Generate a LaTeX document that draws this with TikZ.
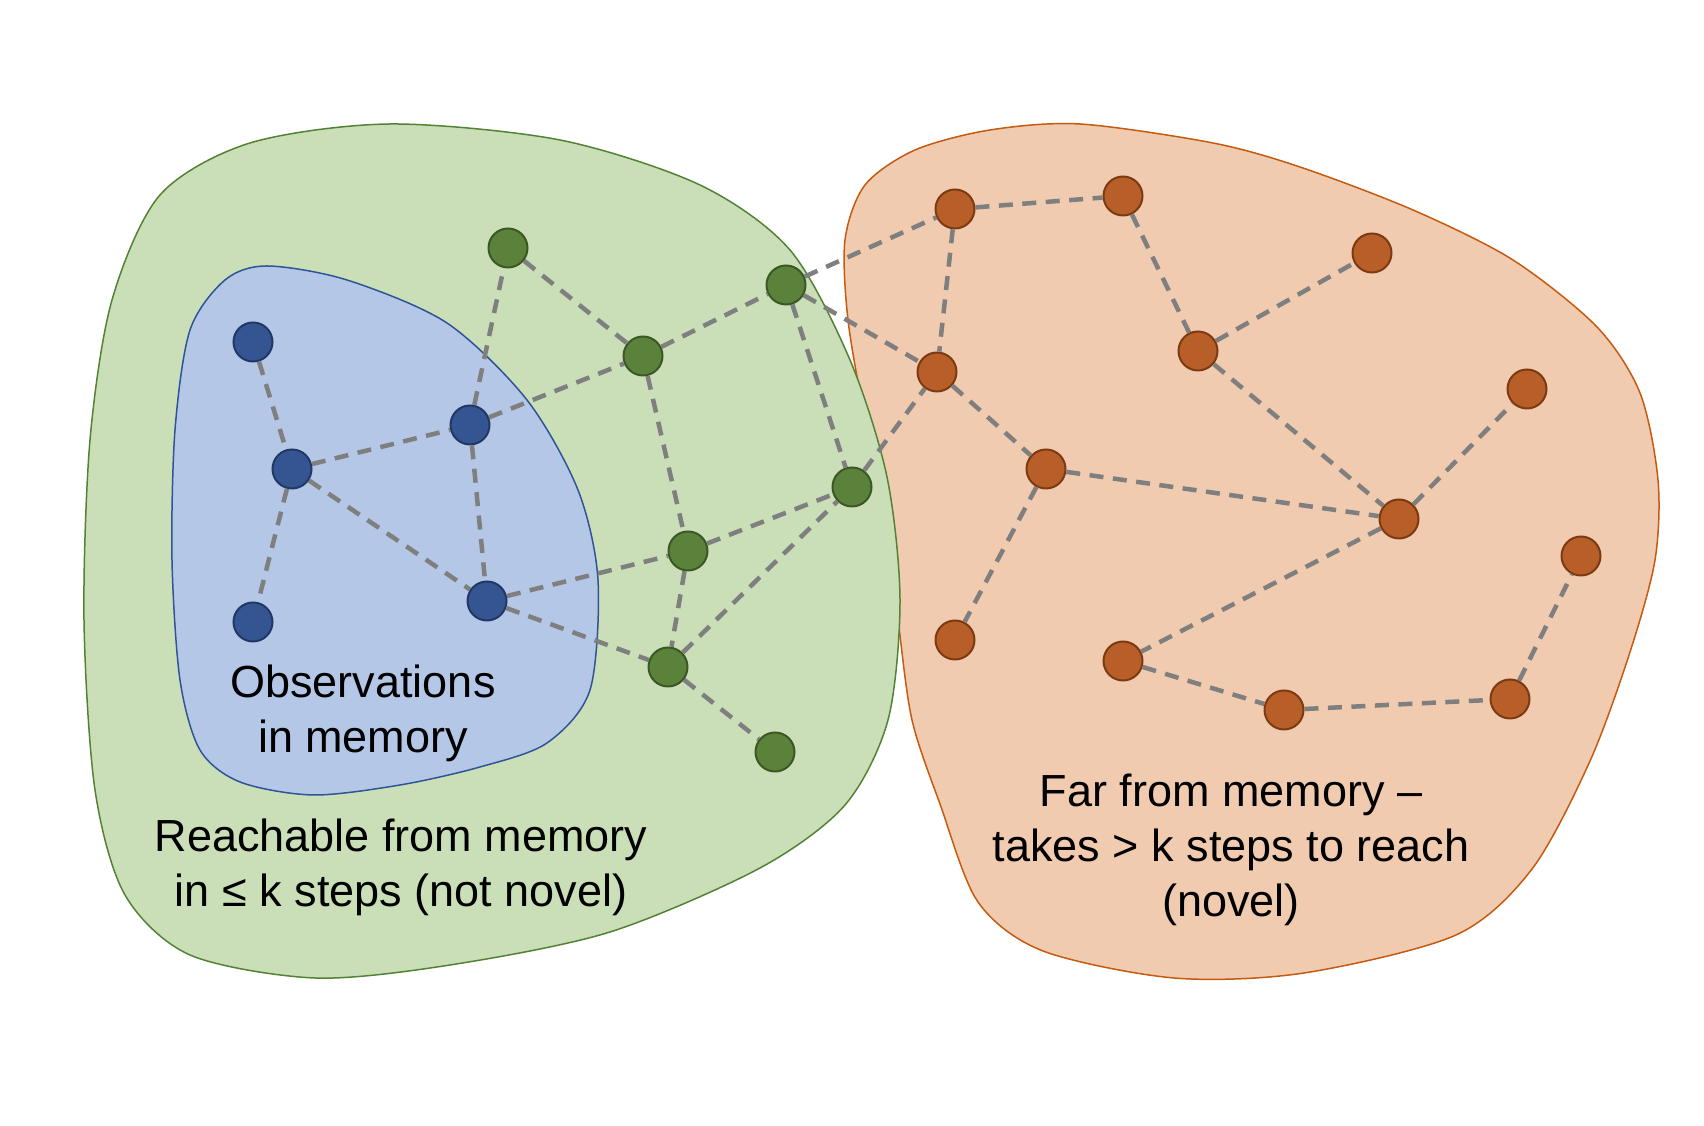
\documentclass[tikz,border=0pt]{standalone}
\usepackage{fontspec}
\setmainfont{Liberation Sans}
\usepackage{tikz}

\definecolor{memfill}{HTML}{B4C7E7}
\definecolor{memline}{HTML}{2F5597}
\definecolor{memnode}{HTML}{355592}
\definecolor{memrim}{HTML}{203864}
\definecolor{reachfill}{HTML}{CADFB8}
\definecolor{reachline}{HTML}{548235}
\definecolor{reachnode}{HTML}{5B823B}
\definecolor{reachrim}{HTML}{3A5724}
\definecolor{farfill}{HTML}{F1CBAF}
\definecolor{farline}{HTML}{C55A11}
\definecolor{farnode}{HTML}{B85E28}
\definecolor{farrim}{HTML}{7B3A12}
\definecolor{linkgrey}{HTML}{7F7F7F}

\begin{document}
\begin{tikzpicture}[x=0.1mm, y=-0.1mm, line width=0.15mm,
    obsdot/.style={circle, minimum size=3.9mm, inner sep=0pt, line width=0.2mm},
    memdot/.style={obsdot, fill=memnode, draw=memrim},
    reachdot/.style={obsdot, fill=reachnode, draw=reachrim},
    fardot/.style={obsdot, fill=farnode, draw=farrim},
    link/.style={draw=linkgrey, line width=0.45mm, dash pattern=on 1.4mm off 0.95mm},
    blurb/.style={align=center, font=\fontsize{12.8pt}{15.65pt}\selectfont}]
    \useasboundingbox (0,0) rectangle (1704,1126);

    % regions
    \filldraw[fill=farfill, draw=farline] plot[smooth cycle] coordinates {
        (1080,124) (1213,143) (1300,167) (1413,210) (1513,260) (1597,327) (1640,393)
        (1658,480) (1655,560) (1630,652) (1590,761) (1532,869) (1456,935) (1304,973)
        (1174,978) (1043,951) (978,902) (940,804) (912,720) (898,620) (885,520)
        (865,420) (848,320) (845,240) (865,185) (915,150) (990,130)};
    \filldraw[fill=reachfill, draw=reachline] plot[smooth cycle] coordinates {
        (390,124) (560,140) (700,185) (790,250) (850,360) (887,477)
        (900,600) (888,720) (845,805) (760,868) (610,932) (450,965) (315,978)
        (190,955) (125,895) (95,790) (84,620) (90,440) (112,300) (160,195)
        (250,143)};
    \filldraw[fill=memfill, draw=memline] plot[smooth cycle] coordinates {
        (267,266) (347,280) (447,323) (527,400) (578,490) (598,580)
        (590,690) (547,743) (480,767) (400,785) (313,795) (240,782) (200,750)
        (180,680) (172,560) (175,430) (190,330) (225,280)};

    % observations in memory
    \node[memdot] (b1) at (253,342) {};
    \node[memdot] (b2) at (292,469) {};
    \node[memdot] (b3) at (470,425) {};
    \node[memdot] (b4) at (253,622) {};
    \node[memdot] (b5) at (487,601) {};

    % reachable in <= k steps
    \node[reachdot] (g1) at (508,248) {};
    \node[reachdot] (g2) at (786,285) {};
    \node[reachdot] (g3) at (643,356) {};
    \node[reachdot] (g4) at (852,487) {};
    \node[reachdot] (g5) at (688,551) {};
    \node[reachdot] (g6) at (668,667) {};
    \node[reachdot] (g7) at (775,752) {};

    % far from memory
    \node[fardot] (o1) at (955,209) {};
    \node[fardot] (o2) at (1123,196) {};
    \node[fardot] (o3) at (937,372) {};
    \node[fardot] (o4) at (1198,351) {};
    \node[fardot] (o5) at (1046,469) {};
    \node[fardot] (o6) at (1372,253) {};
    \node[fardot] (o7) at (1527,389) {};
    \node[fardot] (o8) at (1399,519) {};
    \node[fardot] (o9) at (1581,556) {};
    \node[fardot] (o10) at (1510,699) {};
    \node[fardot] (o11) at (1284,710) {};
    \node[fardot] (o12) at (955,640) {};
    \node[fardot] (o13) at (1123,661) {};

    \foreach \a/\b in {b1/b2, b2/b3, b2/b4, b2/b5, b3/b5, b3/g1, b3/g3, b5/g5, b5/g6,
        g1/g3, g3/g2, g3/g5, g2/g4, g2/o1, g2/o3, g5/g4, g5/g6, g6/g4, g6/g7, g4/o3,
        o1/o2, o1/o3, o2/o4, o4/o6, o4/o8, o3/o5, o5/o8, o5/o12, o8/o7, o8/o13,
        o13/o11, o11/o10, o10/o9}
        \draw[link] (\a) -- (\b);

    \node[blurb] (obs) at (363,713) {Observations\\in memory};
    \node[blurb] (reach) at (401,867) {Reachable from memory\\in ≤ k steps (not novel)};
    \node[blurb] (far) at (1231,850) {Far from memory –\\takes > k steps to reach\\(novel)};
\end{tikzpicture}
\end{document}
